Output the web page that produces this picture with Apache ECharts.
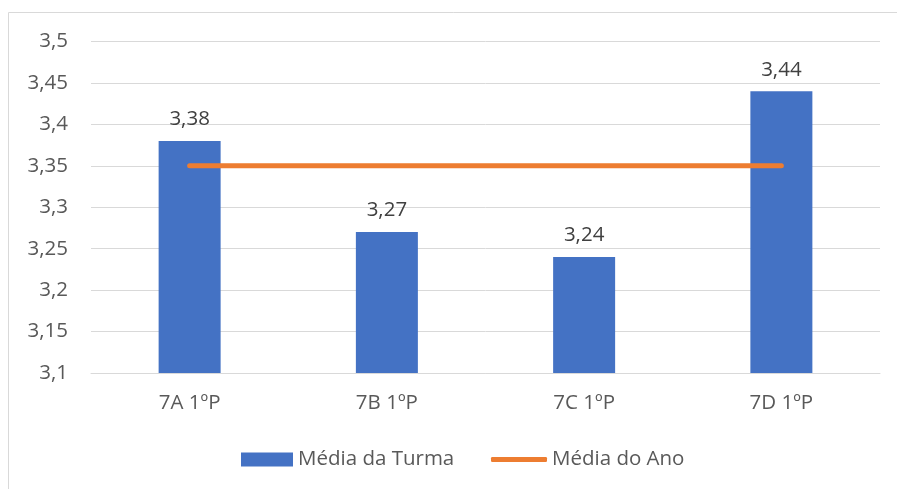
<!DOCTYPE html>
<html><head><meta charset="utf-8">
<script src="https://cdn.jsdelivr.net/npm/echarts@6/dist/echarts.min.js"></script>
<style>html,body{margin:0;padding:0;background:#fff}#c{width:897px;height:489px}</style>
</head><body><div id="c"></div>
<script>
const categories = ['7A 1ºP', '7B 1ºP', '7C 1ºP', '7D 1ºP'];
const mediaTurma = [3.38, 3.27, 3.24, 3.44];
const mediaAno = [3.35, 3.35, 3.35, 3.35];
const yMin = 3.1, yMax = 3.5, yStep = 0.05;

const fmt = v => String(+(+v).toFixed(2)).replace('.', ',');
const FONT = 'Open Sans';
const FS = 20.5;
const chart = echarts.init(document.getElementById('c'), null, {renderer: 'canvas'});
chart.setOption({
  animation: false,
  graphic: [{type: 'rect', shape: {x: 8.5, y: 12.5, width: 900, height: 500},
    style: {fill: 'none', stroke: '#d9d9d9', lineWidth: 1}, z: -1}],
  grid: {left: 91, right: 17, top: 41.5, bottom: 116},
  xAxis: {type: 'category', data: categories,
    axisLine: {lineStyle: {color: '#d9d9d9', width: 1}}, axisTick: {show: false},
    axisLabel: {color: '#595959', fontFamily: FONT, fontSize: FS, margin: 20}},
  yAxis: {type: 'value', min: yMin, max: yMax, interval: yStep,
    axisLine: {show: false}, axisTick: {show: false},
    splitLine: {lineStyle: {color: '#d9d9d9', width: 1}},
    axisLabel: {color: '#595959', fontFamily: FONT, fontSize: FS, margin: 23, formatter: fmt}},
  legend: [
    {left: 236, top: 444, itemWidth: 52, itemHeight: 14, itemGap: 5, icon: 'rect', data: ['Média da Turma'],
     textStyle: {color: '#595959', fontFamily: FONT, fontSize: FS}},
    {left: 486, top: 444, itemWidth: 56, itemHeight: 5, icon: 'roundRect', data: ['Média do Ano'],
     textStyle: {color: '#595959', fontFamily: FONT, fontSize: FS}}
  ],
  series: [
    {name: 'Média da Turma', type: 'bar', data: mediaTurma, barWidth: 62,
     itemStyle: {color: '#4472C4'},
     label: {show: true, position: 'top', distance: 11, color: '#404040', fontFamily: FONT, fontSize: FS, formatter: p => fmt(p.value)}},
    {name: 'Média do Ano', type: 'line', data: mediaAno, symbol: 'none', showSymbol: false,
     itemStyle: {color: '#ED7D31'},
     lineStyle: {color: '#ED7D31', width: 5, cap: 'round'}}
  ]
});
</script></body></html>
